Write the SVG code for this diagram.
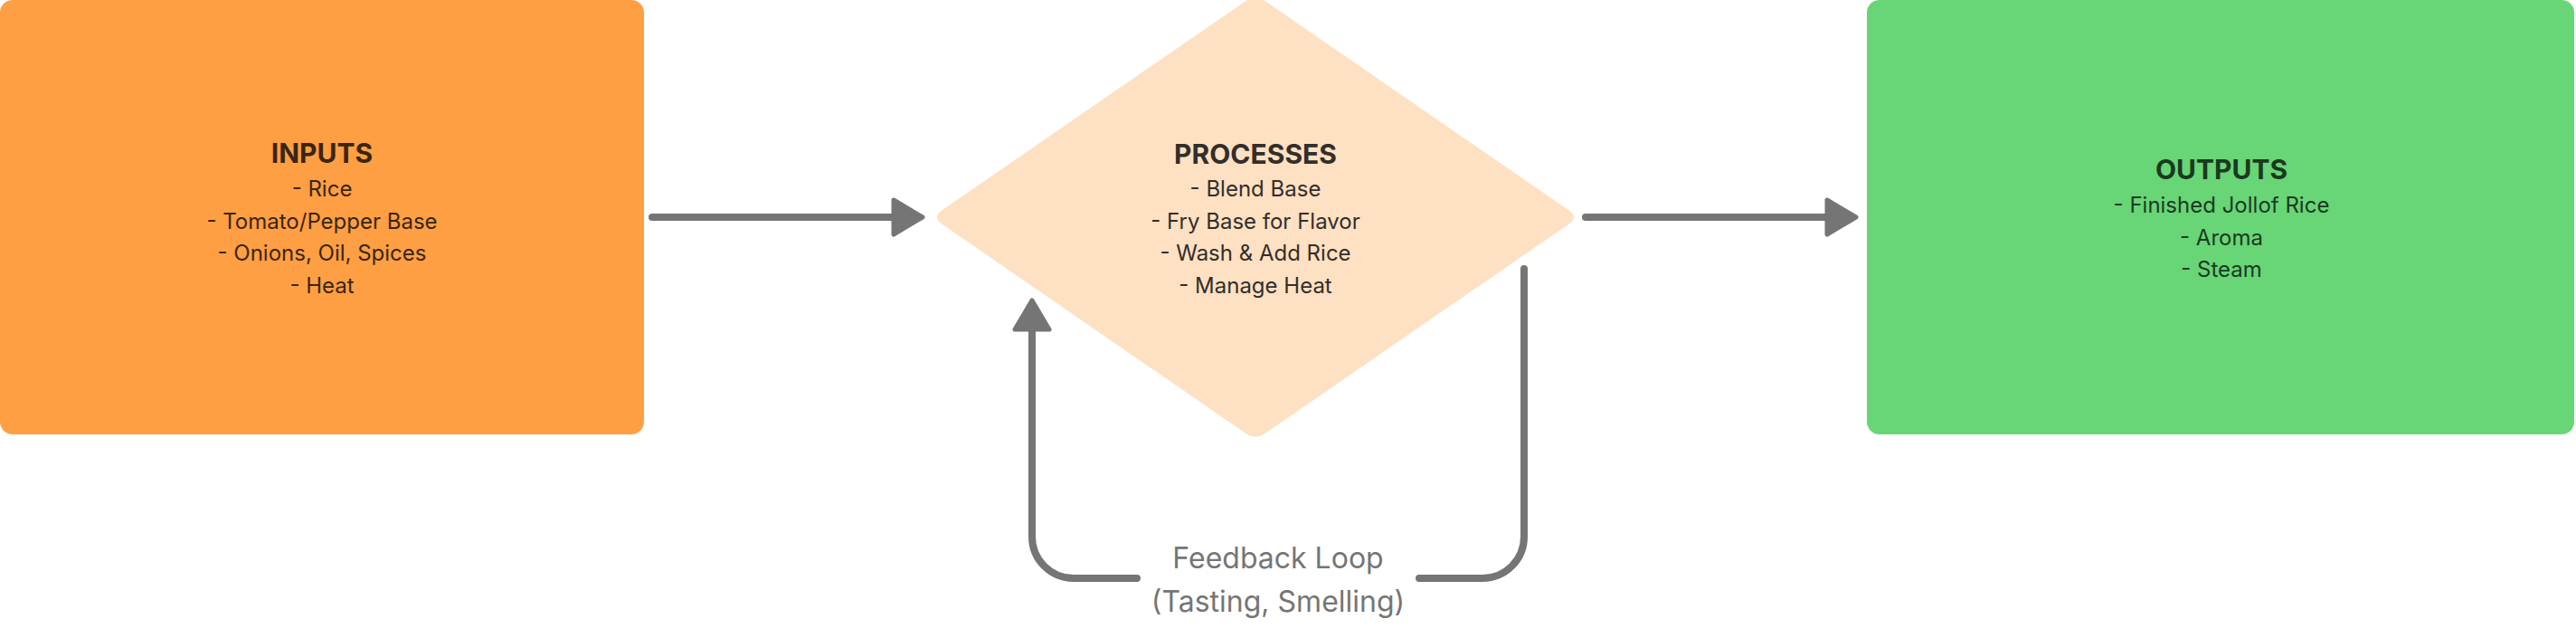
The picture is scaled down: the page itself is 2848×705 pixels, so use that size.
<svg xmlns="http://www.w3.org/2000/svg" width="2848" height="705" viewBox="0 0 2848 705">
<defs>
<style>
.t{font-family:Inter,"Noto Sans","Liberation Sans",sans-serif;text-anchor:middle}
.h{font-size:30px;font-weight:700}
.b{font-size:24px;font-weight:400}
.ln{fill:none;stroke:#757575;stroke-width:8;stroke-linecap:round;stroke-linejoin:round}
.ah{fill:#757575;stroke:#757575;stroke-width:5;stroke-linejoin:round}
.lbl{font-size:32px;fill:#757575}
</style>
</defs>
<rect width="2848" height="705" fill="#ffffff"/>
<g id="inputs">
<rect x="0" y="0" width="712" height="480" rx="14" fill="#FF9F43"/>
<g class="t" fill="#3A2510">
<text class="h" x="356" y="180">INPUTS</text>
<text class="b" x="356" y="217">- Rice</text>
<text class="b" x="356" y="253">- Tomato/Pepper Base</text>
<text class="b" x="356" y="288">- Onions, Oil, Spices</text>
<text class="b" x="356" y="324">- Heat</text>
</g>
</g>
<g id="processes">
<path d="M1376,2 Q1388,-7 1400,2 L1734,232 Q1746,240 1734,248 L1400,478 Q1388,487 1376,478 L1042,248 Q1030,240 1042,232 Z" fill="#FEE0C2"/>
<g class="t" fill="#332E2A">
<text class="h" x="1388" y="181">PROCESSES</text>
<text class="b" x="1388" y="217">- Blend Base</text>
<text class="b" x="1388" y="253">- Fry Base for Flavor</text>
<text class="b" x="1388" y="288">- Wash &amp; Add Rice</text>
<text class="b" x="1388" y="324">- Manage Heat</text>
</g>
</g>
<g id="outputs">
<rect x="2064" y="0" width="782" height="480" rx="14" fill="#68D577"/>
<g class="t" fill="#1A3A1E">
<text class="h" x="2456" y="198">OUTPUTS</text>
<text class="b" x="2456" y="235">- Finished Jollof Rice</text>
<text class="b" x="2456" y="271">- Aroma</text>
<text class="b" x="2456" y="306">- Steam</text>
</g>
</g>
<g id="connectors">
<path class="ln" d="M721,240 L988,240"/>
<polygon class="ah" points="988,221 1020,240 988,259"/>
<path class="ln" d="M1753,240 L2020,240"/>
<polygon class="ah" points="2020,221 2052,240 2020,259"/>
<path class="ln" d="M1685,297 L1685,593 A46,46 0 0 1 1639,639 L1569,639"/>
<path class="ln" d="M1257,639 L1187,639 A46,46 0 0 1 1141,593 L1141,366"/>
<polygon class="ah" points="1122,364 1141,332 1160,364"/>
<text class="t lbl" x="1413" y="628">Feedback Loop</text>
<text class="t lbl" x="1413" y="676">(Tasting, Smelling)</text>
</g>
</svg>
